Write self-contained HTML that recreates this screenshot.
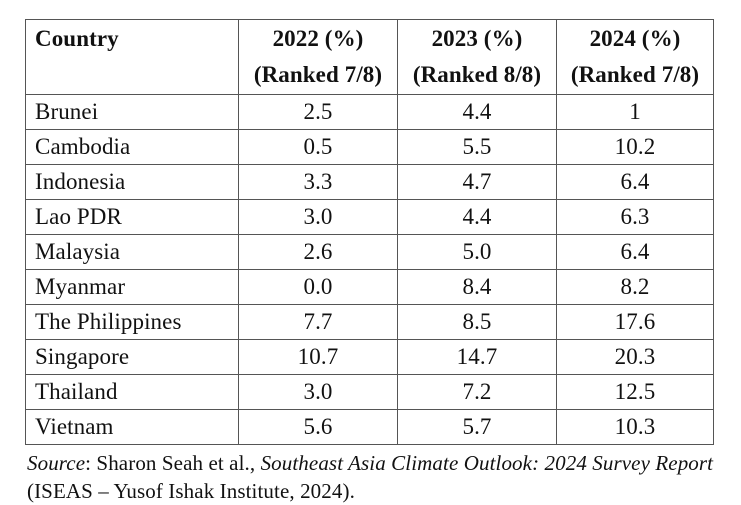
<!DOCTYPE html>
<html><head><meta charset="utf-8"><style>
body{margin:0;width:741px;height:486px;background:#fff;overflow:hidden;font-family:"Liberation Serif",serif;color:#111;position:relative}
table{position:absolute;left:25px;top:19px;border-collapse:collapse;font-size:23px;letter-spacing:0.1px}
td{border:1.5px solid #555;padding:0;height:34px;text-align:center;line-height:34px}
td:first-child{text-align:left;padding-left:9px}
th{border:1.5px solid #555;font-weight:bold;height:71px;vertical-align:top;line-height:36px;padding-top:1px}
th:first-child{text-align:left;padding-left:9px}
.src{position:absolute;left:27px;top:449px;font-size:21px;letter-spacing:0.1px;line-height:28px;white-space:nowrap}
</style></head><body>
<table>
<colgroup><col style="width:213px"><col style="width:159px"><col style="width:159px"><col style="width:157px"></colgroup>
<tr><th>Country</th><th>2022 (%)<br>(Ranked 7/8)</th><th>2023 (%)<br>(Ranked 8/8)</th><th>2024 (%)<br>(Ranked 7/8)</th></tr>
<tr><td>Brunei</td><td>2.5</td><td>4.4</td><td>1</td></tr>
<tr><td>Cambodia</td><td>0.5</td><td>5.5</td><td>10.2</td></tr>
<tr><td>Indonesia</td><td>3.3</td><td>4.7</td><td>6.4</td></tr>
<tr><td>Lao PDR</td><td>3.0</td><td>4.4</td><td>6.3</td></tr>
<tr><td>Malaysia</td><td>2.6</td><td>5.0</td><td>6.4</td></tr>
<tr><td>Myanmar</td><td>0.0</td><td>8.4</td><td>8.2</td></tr>
<tr><td>The Philippines</td><td>7.7</td><td>8.5</td><td>17.6</td></tr>
<tr><td>Singapore</td><td>10.7</td><td>14.7</td><td>20.3</td></tr>
<tr><td>Thailand</td><td>3.0</td><td>7.2</td><td>12.5</td></tr>
<tr><td>Vietnam</td><td>5.6</td><td>5.7</td><td>10.3</td></tr>
</table>
<div class="src"><i>Source</i>: Sharon Seah et al., <i>Southeast Asia Climate Outlook: 2024 Survey Report</i><br>(ISEAS – Yusof Ishak Institute, 2024).</div>
</body></html>
